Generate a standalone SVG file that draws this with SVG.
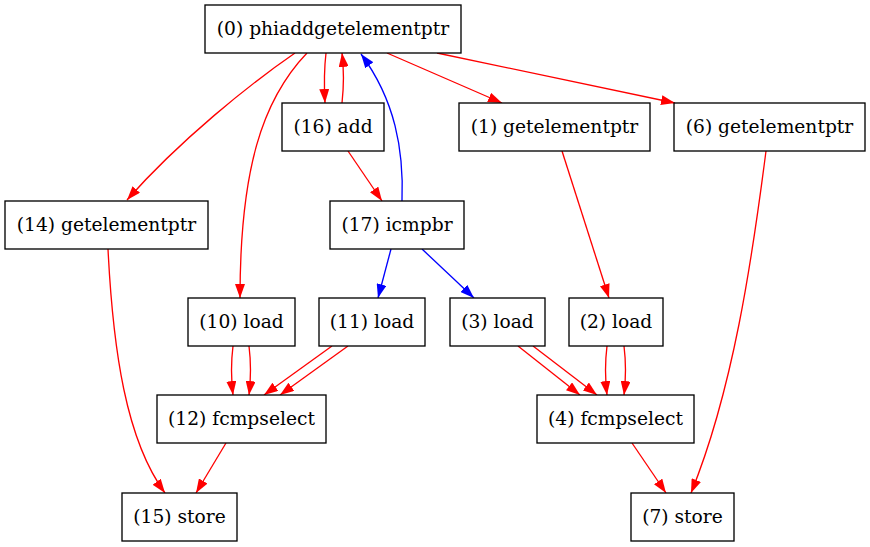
<svg xmlns="http://www.w3.org/2000/svg" width="870" height="547" viewBox="0 0 870 547">
<style>
.n rect{fill:#fff;stroke:#000;stroke-width:1.33}
.n text{font-family:"DejaVu Serif","Liberation Serif",serif;font-size:18.67px;text-anchor:middle;fill:#000}
.e path{fill:none;stroke-width:1.33}
.r{stroke:#f00}
.b{stroke:#00f}
</style>
<defs>
<marker id="ar" viewBox="0 0 14 10" refX="14" refY="5" markerWidth="14" markerHeight="10" markerUnits="userSpaceOnUse" orient="auto"><path d="M0,0 L14,5 L0,10 z" fill="#f00"/></marker>
<marker id="ab" viewBox="0 0 14 10" refX="14" refY="5" markerWidth="14" markerHeight="10" markerUnits="userSpaceOnUse" orient="auto"><path d="M0,0 L14,5 L0,10 z" fill="#00f"/></marker>
</defs>
<rect width="870" height="547" fill="#fff"/>
<g class="e" id="edges">
<path class="r" marker-end="url(#ar)" d="M295,53 C250,84 180,140 127,200"/>
<path class="r" marker-end="url(#ar)" d="M307,53 C262,100 240,170 240,298"/>
<path class="r" marker-end="url(#ar)" d="M326,53 C324,70 324,85 325,103"/>
<path class="r" marker-end="url(#ar)" d="M342,103 C344,85 344,70 342,53"/>
<path class="b" marker-end="url(#ab)" d="M402,201 C404,150 395,100 361,54"/>
<path class="r" marker-end="url(#ar)" d="M348,151 L382,201"/>
<path class="r" marker-end="url(#ar)" d="M387,53 L502,103"/>
<path class="r" marker-end="url(#ar)" d="M437,53 L675,103"/>
<path class="r" marker-end="url(#ar)" d="M562,151 L609,298"/>
<path class="r" marker-end="url(#ar)" d="M766,151 C752,260 733,390 691,493"/>
<path class="r" marker-end="url(#ar)" d="M108,249 C113,350 126,440 165,493"/>
<path class="b" marker-end="url(#ab)" d="M391,249 L378,298"/>
<path class="b" marker-end="url(#ab)" d="M422,249 L474,298"/>
<path class="r" marker-end="url(#ar)" d="M233,346 C231,362 231,378 233,395"/>
<path class="r" marker-end="url(#ar)" d="M249,346 C251,362 251,378 249,395"/>
<path class="r" marker-end="url(#ar)" d="M332,346 L264,395"/>
<path class="r" marker-end="url(#ar)" d="M348,346 L280,395"/>
<path class="r" marker-end="url(#ar)" d="M518,346 L580,395"/>
<path class="r" marker-end="url(#ar)" d="M533,346 L597,395"/>
<path class="r" marker-end="url(#ar)" d="M607,346 C605,362 605,378 607,395"/>
<path class="r" marker-end="url(#ar)" d="M624,346 C626,362 626,378 624,395"/>
<path class="r" marker-end="url(#ar)" d="M226,443 L196,493"/>
<path class="r" marker-end="url(#ar)" d="M632,443 L666,493"/>
</g>
<g class="n" id="n0"><rect x="205" y="5" width="256" height="48"/><text x="333" y="34.6">(0) phiaddgetelementptr</text></g>
<g class="n" id="n16"><rect x="282" y="103" width="102" height="48"/><text x="333" y="132.6">(16) add</text></g>
<g class="n" id="n1"><rect x="459" y="103" width="191" height="48"/><text x="554.5" y="132.6">(1) getelementptr</text></g>
<g class="n" id="n6"><rect x="674" y="103" width="191" height="48"/><text x="769.5" y="132.6">(6) getelementptr</text></g>
<g class="n" id="n14"><rect x="5" y="201" width="203" height="48"/><text x="106.5" y="230.6">(14) getelementptr</text></g>
<g class="n" id="n17"><rect x="330" y="201" width="134" height="48"/><text x="397" y="230.6">(17) icmpbr</text></g>
<g class="n" id="n10"><rect x="188" y="298" width="107" height="48"/><text x="241.5" y="327.6">(10) load</text></g>
<g class="n" id="n11"><rect x="319" y="298" width="106" height="48"/><text x="372" y="327.6">(11) load</text></g>
<g class="n" id="n3"><rect x="450" y="298" width="95" height="48"/><text x="497.5" y="327.6">(3) load</text></g>
<g class="n" id="n2"><rect x="569" y="298" width="94" height="48"/><text x="616" y="327.6">(2) load</text></g>
<g class="n" id="n12"><rect x="157" y="395" width="169" height="48"/><text x="241.5" y="424.6">(12) fcmpselect</text></g>
<g class="n" id="n4"><rect x="537" y="395" width="157" height="48"/><text x="615.5" y="424.6">(4) fcmpselect</text></g>
<g class="n" id="n15"><rect x="122" y="493" width="115" height="48"/><text x="179.5" y="522.6">(15) store</text></g>
<g class="n" id="n7"><rect x="631" y="493" width="103" height="48"/><text x="682.5" y="522.6">(7) store</text></g>
</svg>
